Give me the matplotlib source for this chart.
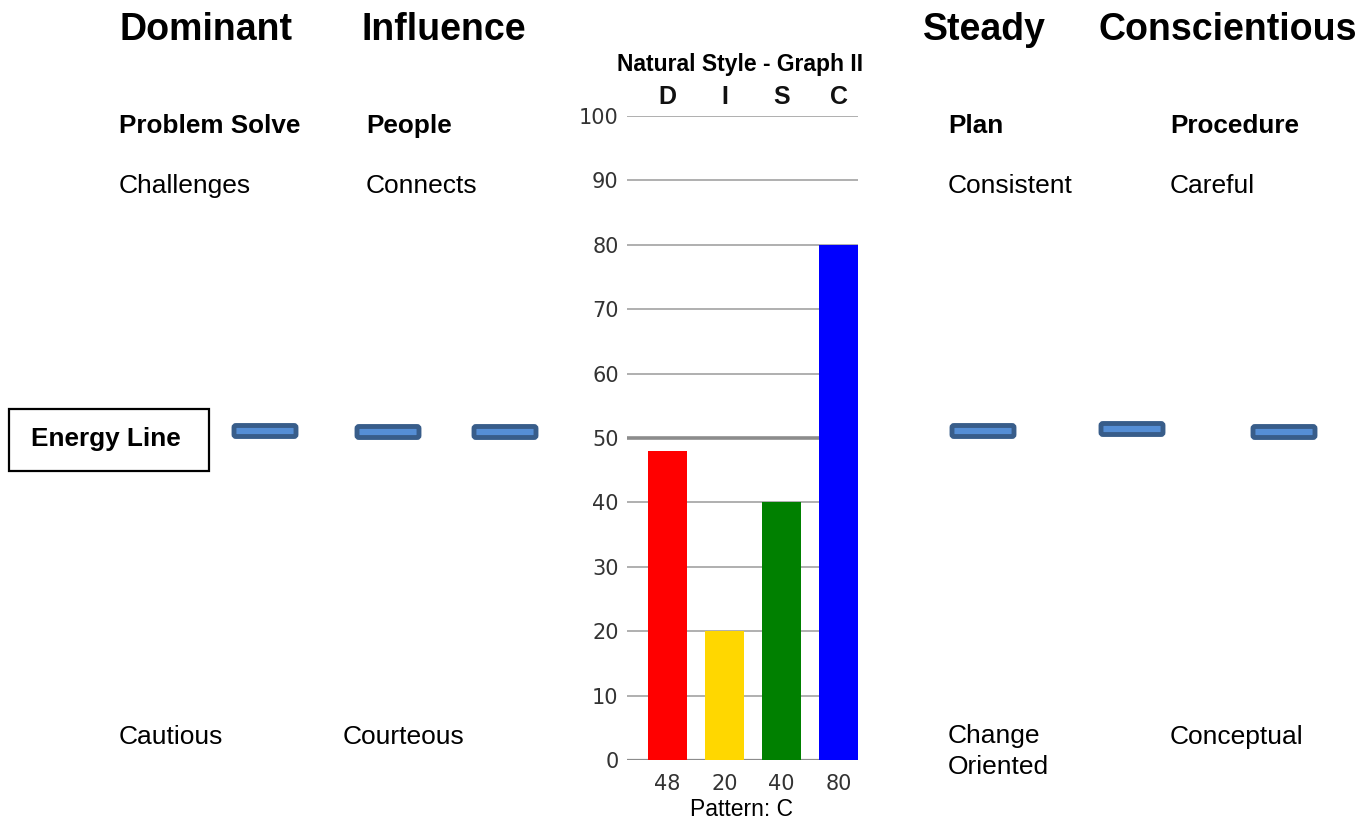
import matplotlib
matplotlib.use("Agg")
from matplotlib import pyplot as plt
from matplotlib.patches import FancyBboxPatch, Rectangle
from matplotlib.transforms import IdentityTransform
import numpy as np

# data
letters = ["D", "I", "S", "C"]
scores = [48, 20, 40, 80]
bar_colors = ["#FF0000", "#FFD700", "#008000", "#0000FF"]
y_ticks = [0, 10, 20, 30, 40, 50, 60, 70, 80, 90, 100]

headers = ["Dominant", "Influence", "Steady", "Conscientious"]
focus = ["Problem Solve", "People", "Plan", "Procedure"]
high_words = ["Challenges", "Connects", "Consistent", "Careful"]
low_words = ["Cautious", "Courteous", "Change\nOriented", "Conceptual"]

W, H = 1366, 823
SANS = ["Liberation Sans", "DejaVu Sans"]


def fx(x):
    return x / W


def fy(y):
    return 1 - y / H


def main():
    fig = plt.figure(figsize=(W / 100, H / 100), dpi=100)

    # bar chart in the middle
    ax = fig.add_axes([fx(627), fy(760), fx(858) - fx(627), fy(116) - fy(760)])
    x = np.arange(len(scores))
    ax.bar(x, scores, width=0.68, color=bar_colors, zorder=3)
    ax.set_xlim(-0.71, 3.34)
    ax.set_ylim(0, 100)
    ax.set_yticks(y_ticks)
    ax.set_yticklabels([str(v) for v in y_ticks])
    for v in y_ticks:
        if v == 0:
            ax.axhline(v, color="#8c8c8c", lw=1.6, zorder=1)
        elif v == 50:
            ax.axhline(v, color="#8c8c8c", lw=2.6, zorder=1)
        else:
            ax.axhline(v, color="#9a9a9a", lw=1.1, zorder=1)
    ax.set_xticks(x)
    ax.set_xticklabels([str(s) for s in scores])
    ax.tick_params(axis="both", length=0, labelsize=15, colors="#333333")
    ax.tick_params(axis="y", pad=6)
    ax.tick_params(axis="x", pad=10)
    for sp in ax.spines.values():
        sp.set_visible(False)

    top = ax.secondary_xaxis("top")
    top.set_xticks(x)
    top.set_xticklabels(letters, fontsize=18, fontweight="bold", family=SANS, color="#111111")
    top.tick_params(length=0, pad=5)
    for sp in top.spines.values():
        sp.set_visible(False)

    fig.text(fx(740), fy(65), "Natural Style - Graph II", ha="center", va="center",
             fontsize=16.5, fontweight="bold", family=SANS)
    fig.text(fx(741), fy(810), "Pattern: C", ha="center", va="center",
             fontsize=16.5, family=SANS)

    # side text columns
    head_x = [119, 362, 923, 1098]
    col_x = [119, 366, 948, 1170]
    low_x = [119, 343, 948, 1170]
    for i in range(4):
        fig.text(fx(head_x[i]), fy(30), headers[i], ha="left", va="center",
                 fontsize=27, fontweight="bold", family=SANS)
        fig.text(fx(col_x[i]), fy(126), focus[i], ha="left", va="center",
                 fontsize=18.8, fontweight="bold", family=SANS)
        fig.text(fx(col_x[i]), fy(186), high_words[i], ha="left", va="center",
                 fontsize=19, family=SANS)
        if "\n" in low_words[i]:
            fig.text(fx(low_x[i]), fy(724), low_words[i], ha="left", va="top",
                     fontsize=19, family=SANS, linespacing=1.35)
        else:
            fig.text(fx(low_x[i]), fy(737), low_words[i], ha="left", va="center",
                     fontsize=19, family=SANS)

    # energy line box and dashes
    fig.patches.append(Rectangle((9, H - 471), 200, 62, fill=False, ec="black", lw=1.6,
                                 transform=IdentityTransform(), figure=fig))
    fig.text(fx(106), fy(439), "Energy Line", ha="center", va="center",
             fontsize=18.8, fontweight="bold", family=SANS)

    dash_x = [232, 355, 472, 950, 1099, 1251]
    dash_y = [431, 432, 432, 431, 429, 432]
    for dx, dy in zip(dash_x, dash_y):
        p = FancyBboxPatch((dx + 2, H - dy - 5.5), 62, 11,
                           boxstyle="round,pad=0,rounding_size=2",
                           fc="#558ED5", ec="#385D8A", lw=3.5,
                           transform=IdentityTransform(), figure=fig)
        fig.patches.append(p)

    fig.savefig("out.png", dpi=100)


if __name__ == "__main__":
    main()
